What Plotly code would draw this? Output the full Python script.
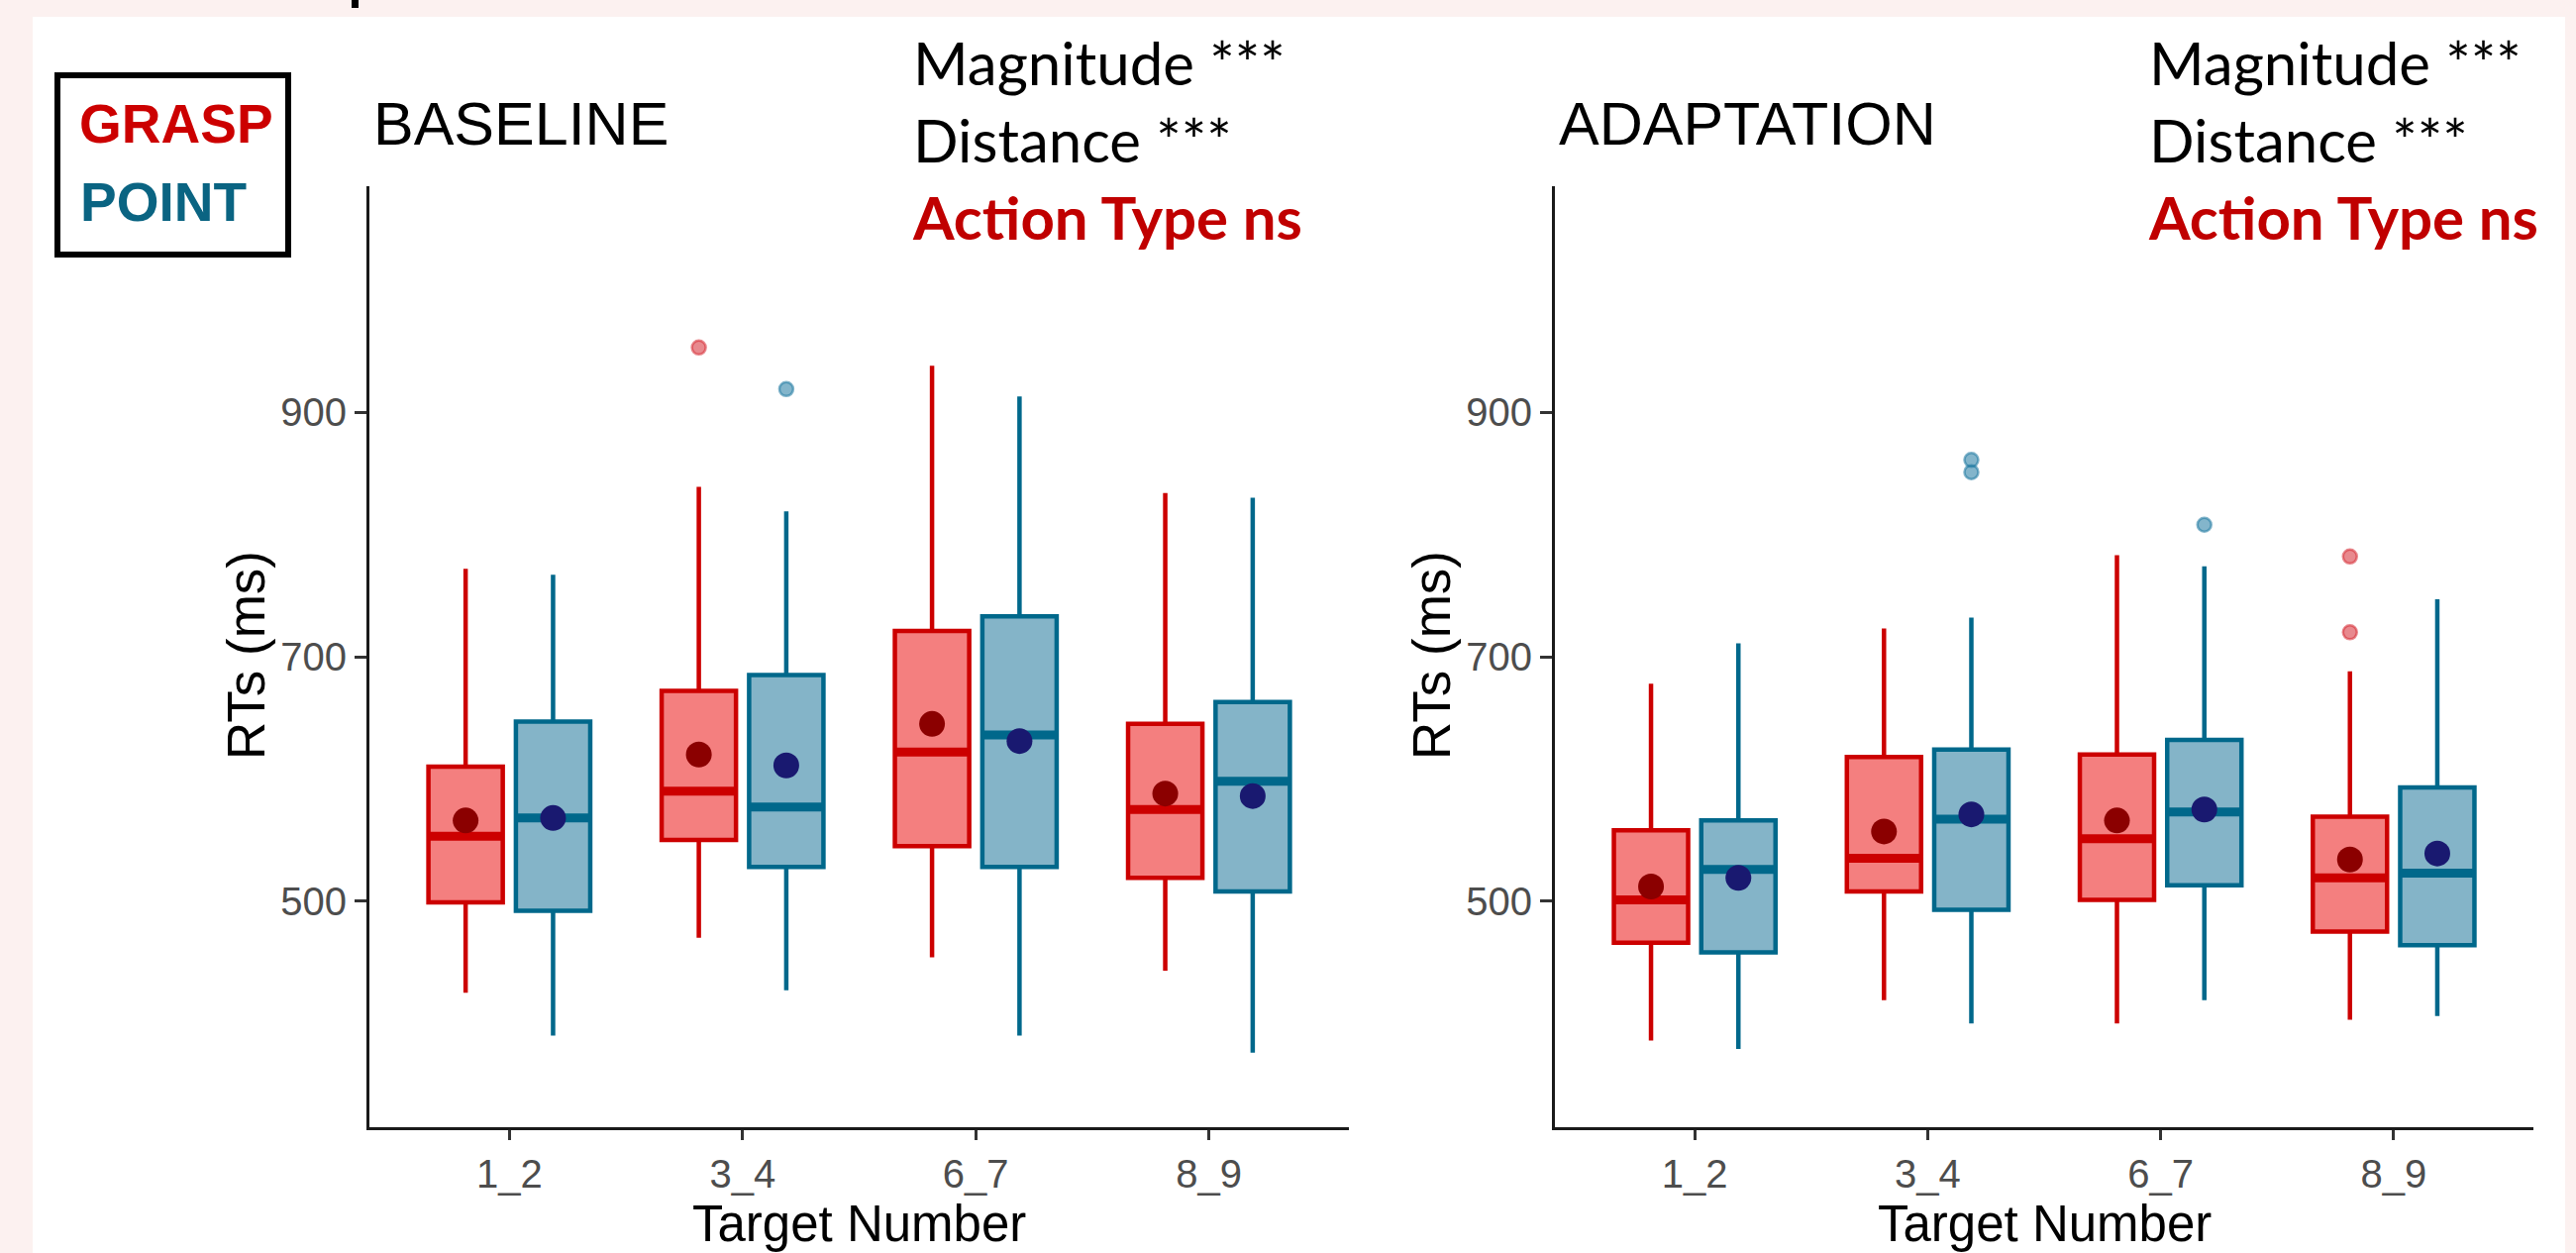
import plotly.graph_objects as go

categories = ["1_2", "3_4", "6_7", "8_9"]
yticks = [500, 700, 900]

# ---- BASELINE ----
base_grasp_q1 = [499, 550, 545, 519]
base_grasp_med = [553, 590, 622, 575]
base_grasp_q3 = [610, 672, 721, 645]
base_grasp_lo = [425, 470, 454, 443]
base_grasp_hi = [772, 839, 938, 834]
base_grasp_mean = [566, 620, 645, 588]
base_grasp_out_x = ["3_4"]
base_grasp_out_y = [953]

base_point_q1 = [492, 528, 528, 508]
base_point_med = [568, 577, 636, 598]
base_point_q3 = [647, 685, 733, 663]
base_point_lo = [390, 427, 390, 376]
base_point_hi = [767, 819, 913, 830]
base_point_mean = [568, 611, 631, 586]
base_point_out_x = ["3_4"]
base_point_out_y = [919]

# ---- ADAPTATION ----
adap_grasp_q1 = [466, 508, 501, 475]
adap_grasp_med = [501, 535, 551, 519]
adap_grasp_q3 = [558, 618, 620, 569]
adap_grasp_lo = [386, 419, 400, 403]
adap_grasp_hi = [678, 723, 783, 688]
adap_grasp_mean = [512, 557, 566, 534]
adap_grasp_out_x = ["8_9", "8_9"]
adap_grasp_out_y = [782, 720]

adap_point_q1 = [458, 493, 513, 464]
adap_point_med = [526, 567, 573, 523]
adap_point_q3 = [566, 624, 632, 593]
adap_point_lo = [379, 400, 419, 406]
adap_point_hi = [711, 732, 774, 747]
adap_point_mean = [519, 571, 575, 539]
adap_point_out_x = ["3_4", "3_4", "6_7"]
adap_point_out_y = [861, 851, 808]

W, H = 2601, 1265

GRASP_LINE = "#CC0000"
GRASP_FILL = "#F47F7F"
GRASP_MEAN = "#8B0000"
GRASP_OUT = "rgba(214,40,50,0.55)"
POINT_LINE = "#00688B"
POINT_FILL = "#84B4C8"
POINT_MEAN = "#191970"
POINT_OUT = "rgba(30,120,160,0.55)"

AX_FONT = "Liberation Sans, Arial, sans-serif"
ANN_FONT = "Lato, Open Sans, sans-serif"


def fx(p):
    return p / W


def fy(p):
    return 1 - p / H


fig = go.Figure()

panels = [
    ("x", "y", "1",
     (base_grasp_q1, base_grasp_med, base_grasp_q3, base_grasp_lo, base_grasp_hi,
      base_grasp_mean, base_grasp_out_x, base_grasp_out_y),
     (base_point_q1, base_point_med, base_point_q3, base_point_lo, base_point_hi,
      base_point_mean, base_point_out_x, base_point_out_y)),
    ("x2", "y2", "2",
     (adap_grasp_q1, adap_grasp_med, adap_grasp_q3, adap_grasp_lo, adap_grasp_hi,
      adap_grasp_mean, adap_grasp_out_x, adap_grasp_out_y),
     (adap_point_q1, adap_point_med, adap_point_q3, adap_point_lo, adap_point_hi,
      adap_point_mean, adap_point_out_x, adap_point_out_y)),
]

groups = [("g", GRASP_LINE, GRASP_FILL, GRASP_MEAN, GRASP_OUT),
          ("p", POINT_LINE, POINT_FILL, POINT_MEAN, POINT_OUT)]

for xa, ya, tag, gdata, pdata in panels:
    for (og, lc, fc, mc, oc), d in zip(groups, (gdata, pdata)):
        q1, med, q3, lo, hi, mean, ox, oy = d
        fig.add_trace(go.Box(
            x=categories, q1=q1, median=med, q3=q3, lowerfence=lo, upperfence=hi,
            fillcolor=fc, line=dict(color=lc, width=4.5), whiskerwidth=0,
            boxpoints=False, offsetgroup=og, alignmentgroup="b" + tag,
            xaxis=xa, yaxis=ya, showlegend=False, hoverinfo="skip"))
    for (og, lc, fc, mc, oc), d in zip(groups, (gdata, pdata)):
        q1, med, q3, lo, hi, mean, ox, oy = d
        # thicker median line
        fig.add_trace(go.Scatter(
            x=categories, y=med, mode="markers",
            marker=dict(symbol="line-ew", size=54, line=dict(color=lc, width=9)),
            offsetgroup=og, alignmentgroup="s" + tag,
            xaxis=xa, yaxis=ya, showlegend=False, hoverinfo="skip"))
        # outliers
        fig.add_trace(go.Scatter(
            x=ox, y=oy, mode="markers",
            marker=dict(symbol="circle", size=14, color=oc, line=dict(color=oc, width=2.5)),
            offsetgroup=og, alignmentgroup="s" + tag,
            xaxis=xa, yaxis=ya, showlegend=False, hoverinfo="skip"))
        # means
        fig.add_trace(go.Scatter(
            x=categories, y=mean, mode="markers",
            marker=dict(symbol="circle", size=26, color=mc),
            offsetgroup=og, alignmentgroup="s" + tag,
            xaxis=xa, yaxis=ya, showlegend=False, hoverinfo="skip"))

xcommon = dict(type="category", categoryorder="array", categoryarray=categories,
               range=[-0.6, 3.6], showline=True, linecolor="#1a1a1a", linewidth=3,
               ticks="outside", ticklen=10, tickwidth=3, tickcolor="#333333",
               tickfont=dict(family=AX_FONT, size=40, color="#4D4D4D"),
               showgrid=False, zeroline=False, fixedrange=True)
ycommon = dict(range=[315, 1085], tickvals=yticks, showline=True, linecolor="#1a1a1a",
               linewidth=3, ticks="outside", ticklen=12, tickwidth=3, tickcolor="#333333",
               tickfont=dict(family=AX_FONT, size=40, color="#4D4D4D"),
               showgrid=False, zeroline=False, fixedrange=True,
               domain=[fy(1138), fy(188)])

annotations = []
shapes = []

# white panel over pink frame
shapes.append(dict(type="rect", xref="paper", yref="paper", x0=fx(33), x1=fx(2590),
                   y0=0, y1=fy(17), fillcolor="white", line=dict(width=0), layer="below"))
# fragment of cut-off text at the top
shapes.append(dict(type="rect", xref="paper", yref="paper", x0=fx(355), x1=fx(362),
                   y0=fy(8), y1=1, fillcolor="black", line=dict(width=0), layer="above"))
# legend box
shapes.append(dict(type="rect", xref="paper", yref="paper", x0=fx(58), x1=fx(291),
                   y0=fy(257), y1=fy(76), fillcolor="rgba(0,0,0,0)",
                   line=dict(color="black", width=6), layer="above"))

annotations.append(dict(text="GRASP", x=fx(78), y=fy(125), xref="paper", yref="paper",
                        xanchor="left", yanchor="middle", showarrow=False,
                        font=dict(family=AX_FONT, size=55, color="#CC0000", weight="bold")))
annotations.append(dict(text="POINT", x=fx(79), y=fy(204), xref="paper", yref="paper",
                        xanchor="left", yanchor="middle", showarrow=False,
                        font=dict(family=AX_FONT, size=55, color="#0A6482", weight="bold")))

panel_geo = [
    ("BASELINE", 373, 1362, 919),
    ("ADAPTATION", 1570, 2558, 2167),
]
for i, (title, x0, x1, sx) in enumerate(panel_geo):
    annotations.append(dict(text=title, x=fx(x0 + 2), y=fy(125), xref="paper", yref="paper",
                            xanchor="left", yanchor="middle", showarrow=False,
                            font=dict(family=AX_FONT, size=61, color="black")))
    annotations.append(dict(
        text="Magnitude ***<br>Distance ***<br><span style='color:#C00000'><b>Action Type ns</b></span>",
        x=fx(sx), y=fy(141), xref="paper", yref="paper", xanchor="left", yanchor="middle",
        align="left", showarrow=False, font=dict(family=ANN_FONT, size=60, color="black")))
    annotations.append(dict(text="Target Number", x=fx((x0 + x1) / 2), y=fy(1235),
                            xref="paper", yref="paper", xanchor="center", yanchor="middle",
                            showarrow=False, font=dict(family=AX_FONT, size=51, color="black")))
    annotations.append(dict(text="RTs (ms)", x=fx(x0 - 125), y=fy(662), xref="paper",
                            yref="paper", xanchor="center", yanchor="middle", textangle=-90,
                            showarrow=False, font=dict(family=AX_FONT, size=53, color="black")))

fig.update_layout(
    width=W, height=H, margin=dict(l=0, r=0, t=0, b=0), autosize=False,
    paper_bgcolor="#FCF1F0", plot_bgcolor="white",
    boxmode="group", boxgap=0.25, boxgroupgap=0.15,
    scattermode="group", scattergap=0.25,
    xaxis=dict(domain=[fx(373), fx(1362)], anchor="y", **xcommon),
    yaxis=dict(anchor="x", **ycommon),
    xaxis2=dict(domain=[fx(1570), fx(2558)], anchor="y2", **xcommon),
    yaxis2=dict(anchor="x2", **ycommon),
    annotations=annotations, shapes=shapes, showlegend=False,
)

fig.write_html("out.html", config={"displayModeBar": False},
               post_script="document.body.style.margin='0';document.body.style.overflow='hidden';")
